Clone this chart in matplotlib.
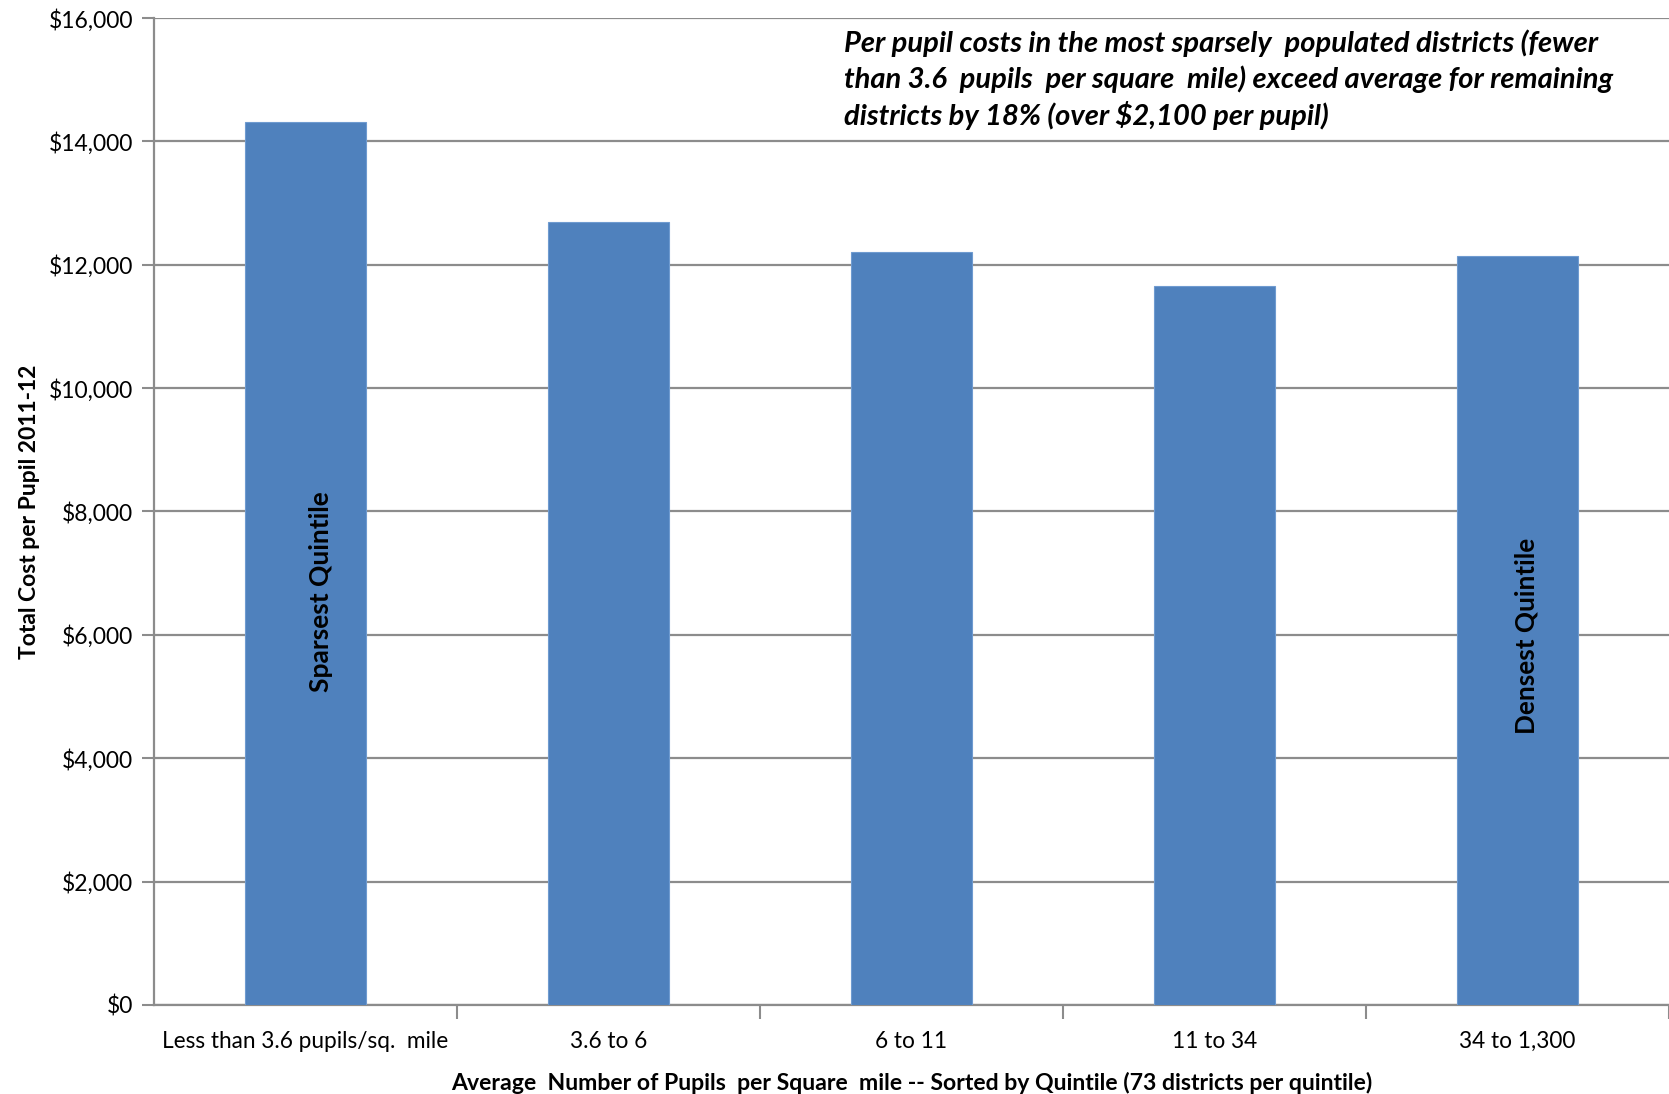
import matplotlib
matplotlib.use("Agg")
import matplotlib.pyplot as plt
from matplotlib import font_manager

# Quintile data
categories = ["Less than 3.6 pupils/sq.  mile", "3.6 to 6", "6 to 11", "11 to 34", "34 to 1,300"]
cost_per_pupil = [14310, 12690, 12200, 11650, 12140]
y_ticks = [0, 2000, 4000, 6000, 8000, 10000, 12000, 14000, 16000]

names = {f.name for f in font_manager.fontManager.ttflist}
base_font = "Lato" if "Lato" in names else "DejaVu Sans"
plt.rcParams["font.family"] = [base_font, "DejaVu Sans"]

bar_color = "#4F81BD"
grid_color = "#8C8C8C"

fig = plt.figure(figsize=(16.69, 10.94), dpi=100)
ax = fig.add_axes([0.0923, 0.0814, 0.9077, 0.9021])

x = list(range(len(categories)))
ax.bar(x, cost_per_pupil, width=0.4, color=bar_color, edgecolor="#6F9BD0", linewidth=0.8, zorder=3)

ax.set_xlim(-0.5, 4.5)
ax.set_ylim(0, 16000)
ax.set_yticks(y_ticks)
ax.set_yticklabels([f"${v:,}" for v in y_ticks], fontsize=16.5)
ax.yaxis.grid(True, color=grid_color, linewidth=1.6, zorder=0)
ax.set_axisbelow(True)

# category labels centred under bars, tick marks between bars
ax.set_xticks(x)
ax.set_xticklabels(categories, fontsize=16.3)
ax.tick_params(axis="x", length=0, pad=19)
ax.set_xticks([i + 0.5 for i in range(len(categories))], minor=True)
ax.tick_params(axis="x", which="minor", length=10, width=1.5, color=grid_color)
ax.tick_params(axis="y", length=9, width=1.5, color=grid_color, pad=6)

for side in ["top", "right"]:
    ax.spines[side].set_visible(False)
for side in ["left", "bottom"]:
    ax.spines[side].set_color(grid_color)
    ax.spines[side].set_linewidth(1.6)

ax.set_xlabel("Average  Number of Pupils  per Square  mile -- Sorted by Quintile (73 districts per quintile)",
              fontsize=16.6, fontweight="bold", labelpad=14)
ax.set_ylabel("Total Cost per Pupil 2011-12", fontsize=16.5, fontweight="bold", labelpad=6)

ax.text(0.05, 6700, "Sparsest Quintile", rotation=90, ha="center", va="center",
        fontsize=19, fontweight="bold", zorder=4)
ax.text(4.03, 5980, "Densest Quintile", rotation=90, ha="center", va="center",
        fontsize=18.8, fontweight="bold", zorder=4)

note = ("Per pupil costs in the most sparsely  populated districts (fewer\n"
        "than 3.6  pupils  per square  mile) exceed average for remaining\n"
        "districts by 18% (over $2,100 per pupil)")
fig.text(0.5057, 0.973, note, ha="left", va="top", fontsize=21, fontweight="bold",
         fontstyle="italic", linespacing=1.36)

fig.savefig("out.png", dpi=100)
